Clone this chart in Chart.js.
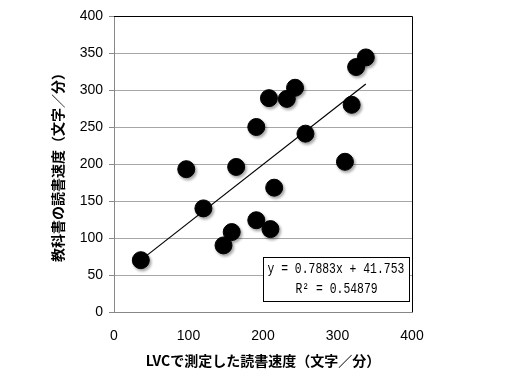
<!DOCTYPE html>
<html>
<head>
<meta charset="utf-8">
<script src="https://cdn.jsdelivr.net/npm/chart.js@4"></script>
<style>
  html, body { margin: 0; padding: 0; background: #fff; }
  #wrap { width: 507px; height: 377px; }
</style>
</head>
<body>
<div id="wrap"><canvas id="chart" width="507" height="377"></canvas></div>
<script>
// LVCで測定した読書速度 (x) と 教科書の読書速度 (y)
const lvcSpeed = [36, 97, 120, 147, 158, 164, 191, 191, 208, 210, 215, 232, 243, 257, 310, 319, 325, 338];
const textbookSpeed = [70, 193, 140, 90, 108, 196, 124, 250, 289, 112, 168, 288, 303, 241, 203, 280, 331, 344];

// 近似直線
const slope = 0.7883;
const intercept = 41.753;
const eqLines = ['y = 0.7883x + 41.753', 'R² = 0.54879'];

const xTitle = 'LVCで測定した読書速度（文字／分）';
const yTitle = '教科書の読書速度（文字／分）';

const points = lvcSpeed.map((x, i) => ({ x, y: textbookSpeed[i] }));
const xMin = Math.min(...lvcSpeed);
const xMax = Math.max(...lvcSpeed);
const trend = [xMin, xMax].map((x) => ({ x, y: slope * x + intercept }));

// 点の影
const shadow = {
  id: 'shadow',
  beforeDatasetDraw(chart, args) {
    if (args.index !== 0) return;
    const ctx = chart.ctx;
    ctx.save();
    ctx.shadowColor = 'rgba(0,0,0,0.35)';
    ctx.shadowBlur = 3;
    ctx.shadowOffsetX = 1.5;
    ctx.shadowOffsetY = 2;
  },
  afterDatasetDraw(chart, args) {
    if (args.index !== 0) return;
    chart.ctx.restore();
  }
};

// 枠線（上と右）と数式ボックス
const extras = {
  id: 'extras',
  afterDraw(chart) {
    const { ctx, chartArea: a, scales } = chart;
    ctx.save();
    ctx.strokeStyle = '#000';
    ctx.lineWidth = 1;
    ctx.beginPath();
    ctx.moveTo(a.left, a.top + 0.5);
    ctx.lineTo(a.right + 0.5, a.top + 0.5);
    ctx.lineTo(a.right + 0.5, a.bottom);
    ctx.stroke();

    const bx = Math.round(scales.x.getPixelForValue(200)) + 0.5;
    const by = Math.round(scales.y.getPixelForValue(75)) + 0.5;
    const bw = 146, bh = 44;
    ctx.fillStyle = '#fff';
    ctx.fillRect(bx, by, bw, bh);
    ctx.strokeRect(bx, by, bw, bh);
    ctx.fillStyle = '#000';
    ctx.font = '15px "Liberation Mono"';
    ctx.textBaseline = 'middle';
    ctx.textAlign = 'left';
    // 等幅で横に詰めて描く
    ctx.save();
    ctx.translate(bx + 4, by + 12);
    ctx.scale(0.76, 1);
    ctx.fillText(eqLines[0], 0, 0);
    ctx.restore();
    ctx.save();
    ctx.translate(bx + 32, by + 32);
    ctx.scale(0.76, 1);
    ctx.fillText(eqLines[1], 0, 0);
    ctx.restore();
    ctx.restore();
  }
};

new Chart(document.getElementById('chart'), {
  type: 'scatter',
  data: {
    datasets: [
      {
        label: 'data',
        data: points,
        backgroundColor: '#000',
        borderColor: '#000',
        pointRadius: 8.5,
        pointHoverRadius: 8.5
      },
      {
        label: 'trend',
        type: 'line',
        data: trend,
        borderColor: '#000',
        borderWidth: 1.2,
        pointRadius: 0,
        fill: false
      }
    ]
  },
  options: {
    responsive: false,
    animation: false,
    layout: { padding: { left: 45, right: 95, top: 16, bottom: 0 } },
    plugins: { legend: { display: false }, tooltip: { enabled: false } },
    scales: {
      x: {
        type: 'linear',
        min: 0,
        max: 400,
        ticks: { stepSize: 100, color: '#000', font: { family: 'Liberation Sans', size: 14 }, padding: 11 },
        grid: { display: false, drawOnChartArea: false, drawTicks: true, tickLength: 5, color: '#888' },
        border: { color: '#888', width: 1 },
        title: { display: true, text: xTitle, color: '#000', font: { family: 'Noto Sans CJK JP', size: 14, weight: 'bold' }, padding: { top: 4, bottom: 8 } },
        afterFit(scale) { scale.height = 65; }
      },
      y: {
        min: 0,
        max: 400,
        ticks: { stepSize: 50, color: '#000', font: { family: 'Liberation Sans', size: 14 }, padding: 6 },
        grid: { color: '#a6a6a6', tickLength: 5, tickColor: '#888' },
        border: { color: '#888', width: 1 },
        title: { display: true, text: yTitle, color: '#000', font: { family: 'Noto Sans CJK JP', size: 14, weight: 'bold' }, padding: { top: 4, bottom: 4 } },
        afterFit(scale) { scale.width = 69; }
      }
    }
  },
  plugins: [shadow, extras]
});
</script>
</body>
</html>
